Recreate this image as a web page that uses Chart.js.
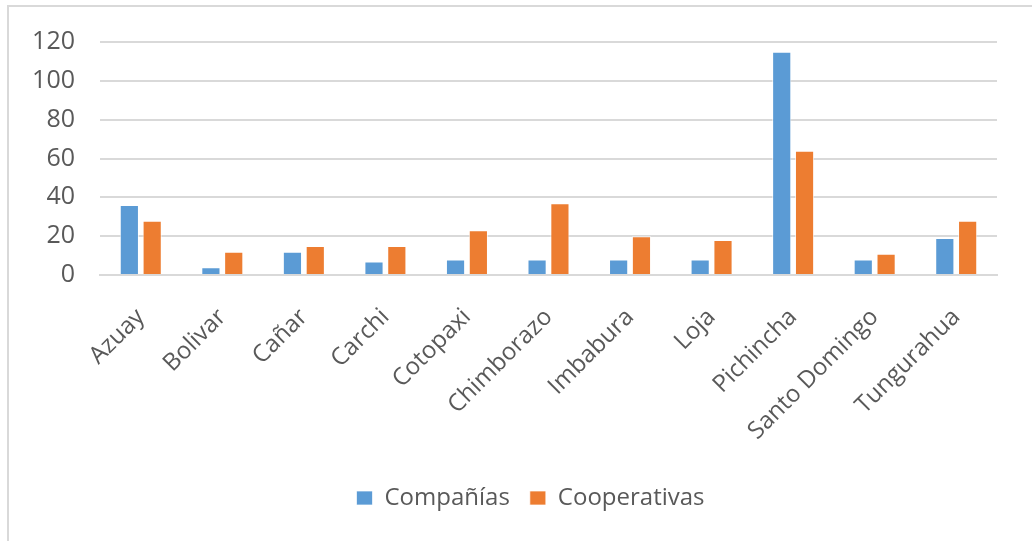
<!DOCTYPE html>
<html>
<head>
<meta charset="utf-8">
<script src="https://cdn.jsdelivr.net/npm/chart.js@4/dist/chart.umd.min.js"></script>
<style>
    body { margin: 0; background: #fff; overflow: hidden; }
    #marco {
        position: absolute; left: 7px; top: 5px; width: 1100px; height: 600px;
        border-top: 2px solid #d9d9d9; border-left: 2px solid #d9d9d9;
    }
    #grafico { position: absolute; left: 0; top: 0; }
</style>
</head>
<body>
<div id="marco"></div>
<canvas id="grafico" width="1032" height="541"></canvas>
<script>

const provincias = ['Azuay', 'Bolivar', 'Cañar', 'Carchi', 'Cotopaxi', 'Chimborazo', 'Imbabura', 'Loja', 'Pichincha', 'Santo Domingo', 'Tungurahua']
const companias = [36, 4, 12, 7, 8, 8, 8, 8, 115, 8, 19]
const cooperativas = [28, 12, 15, 15, 23, 37, 20, 18, 64, 11, 28]
const ticksY = [0, 20, 40, 60, 80, 100, 120]

const gris = '#595959'
const fuente = '"Open Sans", "DejaVu Sans", sans-serif'

// mueve la leyenda un poco a la derecha, como en el original
const moverLeyenda = {
    id: 'moverLeyenda',
    afterLayout: (chart) => {
        chart.legend.left += 32
        chart.legend.right += 32
    }
}

var ctx = document.getElementById('grafico')
var miGrafico = new Chart(ctx, {
    type: 'bar',
    data: {
        labels: provincias,
        datasets: [{
            label: 'Compañías',
            data: companias,
            backgroundColor: '#5B9BD5',
            borderColor: 'rgba(255,255,255,0.7)',
            borderWidth: 1
        }, {
            label: 'Cooperativas',
            data: cooperativas,
            backgroundColor: '#ED7D31',
            borderColor: 'rgba(255,255,255,0.7)',
            borderWidth: 1
        }]
    },
    plugins: [moverLeyenda],
    options: {
        responsive: false,
        animation: false,
        categoryPercentage: 0.56,
        barPercentage: 0.84,
        layout: {
            padding: { left: 0, right: 35, top: 42, bottom: 21 }
        },
        plugins: {
            tooltip: { enabled: false },
            legend: {
                position: 'bottom',
                labels: {
                    boxWidth: 16,
                    boxHeight: 14,
                    padding: 20,
                    color: gris,
                    font: { family: fuente, size: 24 }
                }
            }
        },
        scales: {
            x: {
                grid: { display: false, drawTicks: false },
                border: { color: '#d9d9d9', width: 2 },
                ticks: {
                    color: gris,
                    font: { family: fuente, size: 24 },
                    maxRotation: 45,
                    minRotation: 45,
                    padding: 28,
                    autoSkip: false
                },
                afterFit: (escala) => { escala.height = 191 }
            },
            y: {
                min: 0,
                max: 120,
                afterBuildTicks: (escala) => { escala.ticks = ticksY.map(v => ({ value: v })) },
                grid: { color: '#d9d9d9', lineWidth: 2, drawTicks: false },
                border: { display: false },
                ticks: {
                    color: gris,
                    font: { family: fuente, size: 25 },
                    padding: 25
                },
                afterFit: (escala) => { escala.width = 100 }
            }
        }
    }
})

</script>
</body>
</html>
